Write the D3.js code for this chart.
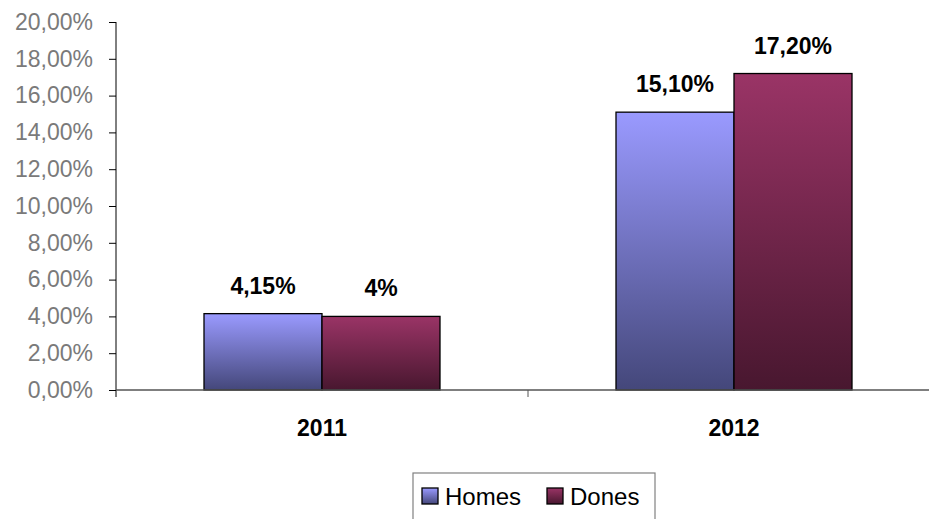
<!DOCTYPE html>
<html>
	<head>
		<meta charset="utf-8"/>
		<script type="text/javascript" src="https://cdn.jsdelivr.net/npm/d3@7"></script>
		<style>
			body {
				margin:0;
				background:#FFF;
				overflow:hidden;
			}
			svg text {
				font-family:"Liberation Sans", Arial, sans-serif;
			}
			.ytick text {
				fill:#7A7A7A;
				font-size:23px;
			}
			.cat_label, .val_label {
				font-weight:bold;
				font-size:23px;
				fill:#000;
				text-anchor:middle;
			}
			.legend_text {
				font-size:24px;
				fill:#000;
			}
		</style>
	</head>
	<body>
		<script>
			var categories = ["2011", "2012"];
			var series = ["Homes", "Dones"];
			var homes = [4.15, 15.10];
			var dones = [4.0, 17.20];
			var homes_labels = ["4,15%", "15,10%"];
			var dones_labels = ["4%", "17,20%"];
			var y_ticks = [0, 2, 4, 6, 8, 10, 12, 14, 16, 18, 20];

			var width = 929, height = 519;
			var plot_left = 116, plot_right = 940, plot_top = 22, plot_bottom = 390;
			var grad_colors = [["#9A9AFF", "#44477A"], ["#9A3466", "#48172F"]];

			var svg = d3.select("body").append("svg")
				.attr("width", width)
				.attr("height", height);

			var defs = svg.append("defs");
			grad_colors.forEach(function(c, i) {
				var g = defs.append("linearGradient")
					.attr("id", "grad" + i)
					.attr("x1", 0).attr("y1", 0)
					.attr("x2", 0).attr("y2", 1);
				g.append("stop").attr("offset", "0%").attr("stop-color", c[0]);
				g.append("stop").attr("offset", "100%").attr("stop-color", c[1]);
			});

			var y = d3.scaleLinear().domain([0, 20]).range([plot_bottom, plot_top]);
			var x = d3.scaleBand().domain(categories).range([plot_left, plot_right]);
			var xs = d3.scaleBand().domain(series).range([x.bandwidth()/2 - 118, x.bandwidth()/2 + 118]);

			// y axis
			var yAxis = d3.axisLeft(y)
				.tickValues(y_ticks)
				.tickSize(7)
				.tickPadding(16)
				.tickFormat(function(d) { return d3.format(".2f")(d).replace(".", ",") + "%"; });
			var ya = svg.append("g")
				.attr("class", "ytick")
				.attr("transform", "translate(" + plot_left + ",0)")
				.call(yAxis);
			ya.attr("font-family", null).attr("font-size", null);
			ya.select(".domain").remove();
			ya.selectAll("line").attr("stroke", "#000");
			svg.append("line")
				.attr("x1", plot_left).attr("x2", plot_left)
				.attr("y1", plot_top).attr("y2", plot_bottom + 7)
				.attr("stroke", "#000");

			// bars
			var data = [homes, dones];
			var labels = [homes_labels, dones_labels];
			var groups = svg.selectAll(".grp")
				.data(categories)
				.enter().append("g")
				.attr("transform", function(d) { return "translate(" + x(d) + ",0)"; });
			series.forEach(function(s, si) {
				groups.append("rect")
					.attr("x", xs(s))
					.attr("width", xs.bandwidth())
					.attr("y", function(d, i) { return y(data[si][i]); })
					.attr("height", function(d, i) { return plot_bottom - y(data[si][i]); })
					.attr("fill", "url(#grad" + si + ")")
					.attr("stroke", "#000")
					.attr("stroke-width", 1.3);
				groups.append("text")
					.attr("class", "val_label")
					.attr("x", xs(s) + xs.bandwidth()/2)
					.attr("y", function(d, i) { return y(data[si][i]) - 20; })
					.text(function(d, i) { return labels[si][i]; });
			});

			// x axis
			svg.append("line")
				.attr("x1", plot_left).attr("x2", plot_right)
				.attr("y1", plot_bottom).attr("y2", plot_bottom)
				.attr("stroke", "#555")
				.attr("stroke-width", 1.5);
			categories.forEach(function(c, i) {
				if (i > 0) {
					svg.append("line")
						.attr("x1", x(c)).attr("x2", x(c))
						.attr("y1", plot_bottom).attr("y2", plot_bottom + 7)
						.attr("stroke", "#555");
				}
				svg.append("text")
					.attr("class", "cat_label")
					.attr("x", x(c) + x.bandwidth()/2)
					.attr("y", 436)
					.text(c);
			});

			// legend
			var lg = svg.append("g").attr("transform", "translate(413,473)");
			lg.append("rect")
				.attr("x", 0).attr("y", 0)
				.attr("width", 242).attr("height", 60)
				.attr("fill", "#FFF")
				.attr("stroke", "#808080")
				.attr("stroke-width", 1.2);
			var lx = [9, 134];
			series.forEach(function(s, si) {
				lg.append("rect")
					.attr("x", lx[si]).attr("y", 15)
					.attr("width", 16).attr("height", 16)
					.attr("fill", "url(#grad" + si + ")")
					.attr("stroke", "#000")
					.attr("stroke-width", 1.3);
				lg.append("text")
					.attr("class", "legend_text")
					.attr("x", lx[si] + 23)
					.attr("y", 32)
					.text(s);
			});
		</script>
	</body>
</html>
